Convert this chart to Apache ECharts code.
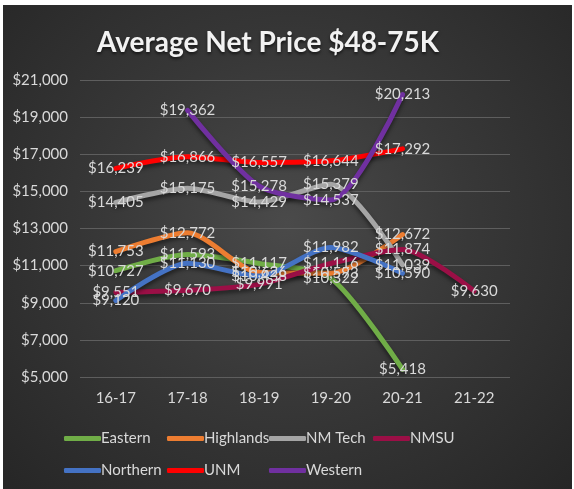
<!DOCTYPE html>
<html>
<head>
<meta charset="utf-8">
<script src="https://cdn.jsdelivr.net/npm/echarts@6/dist/echarts.min.js"></script>
<style>
  html, body { margin: 0; padding: 0; background: #fff; }
  #main {
    position: absolute; left: 3px; top: 5px; width: 569px; height: 484px;
    background: radial-gradient(ellipse at 50% 45%, #4a4a4a 0%, #383838 45%, #262626 100%);
  }
</style>
</head>
<body>
<div id="main"></div>
<script>
const years = ["16-17", "17-18", "18-19", "19-20", "20-21", "21-22"];
const eastern = [10727, 11593, 11117, 10322, 5418, null];
const highlands = [11753, 12772, 10626, 10593, 12672, null];
const nmTech = [14405, 15175, 14429, 15379, 11039, null];
const nmsu = [9551, 9670, 9991, 11116, 11874, 9630];
const northern = [9120, 11130, 10438, 11982, 10590, null];
const unm = [16239, 16866, 16557, 16644, 17292, null];
const western = [null, 19362, 15278, 14537, 20213, null];

const names = ["Eastern", "Highlands", "NM Tech", "NMSU", "Northern", "UNM", "Western"];
const values = [eastern, highlands, nmTech, nmsu, northern, unm, western];
const colors = ["#70ad47", "#ed7d31", "#a5a5a5", "#9b0f46", "#4472c4", "#ff0000", "#7030a0"];

const font = "Lato, 'Open Sans', sans-serif";
const money = (v) => "$" + Number(v).toLocaleString("en-US");

// legend laid out in fixed columns like Excel
const legendPos = [[56, 421], [159, 421], [261, 421], [365, 421], [56, 453], [159, 453], [261, 453]];
const legends = names.map((n, i) => ({
  data: [{ name: n, itemStyle: { color: colors[i], opacity: 1 } }],
  left: legendPos[i][0],
  top: legendPos[i][1],
  icon: "roundRect",
  itemWidth: 37,
  itemHeight: 5,
  itemGap: 2,
  textStyle: { color: "#d9d9d9", fontSize: 15, fontFamily: font, padding: [0, 0, 0, -5] }
}));

let myChart = echarts.init(document.getElementById("main"));

let options = {
  title: {
    text: "Average Net Price $48-75K",
    left: 89,
    top: 19,
    textStyle: {
      color: "#f2f2f2", fontSize: 28, fontWeight: "bold", fontFamily: font,
      textShadowColor: "rgba(0,0,0,0.6)", textShadowBlur: 3, textShadowOffsetY: 2
    }
  },
  legend: legends,
  grid: { left: 77, right: 62, top: 75, bottom: 112 },
  xAxis: {
    type: "category",
    data: years,
    axisLine: { show: false },
    axisTick: { show: false },
    axisLabel: { color: "#d9d9d9", fontSize: 15, fontFamily: font, margin: 14 }
  },
  yAxis: {
    type: "value",
    min: 5000,
    max: 21000,
    interval: 2000,
    axisLabel: { color: "#d9d9d9", fontSize: 15, fontFamily: font, margin: 12, formatter: money },
    splitLine: { lineStyle: { color: "#5e5e5e", width: 1 } }
  },
  series: names.map((n, i) => ({
    name: n,
    type: "line",
    data: values[i],
    smooth: 0.25,
    symbol: "circle",
    symbolSize: 0,
    showSymbol: true,
    connectNulls: false,
    lineStyle: {
      width: 5, color: colors[i], cap: "round",
      shadowColor: "rgba(0,0,0,0.5)", shadowBlur: 4, shadowOffsetY: 3
    },
    itemStyle: { color: colors[i] },
    label: {
      show: true,
      position: "inside",
      formatter: (p) => money(p.value),
      color: "#d9d9d9",
      fontSize: 15,
      fontFamily: font
    },
    labelLayout: { hideOverlap: false },
    z: 2
  }))
};

myChart.setOption(options);
</script>
</body>
</html>
